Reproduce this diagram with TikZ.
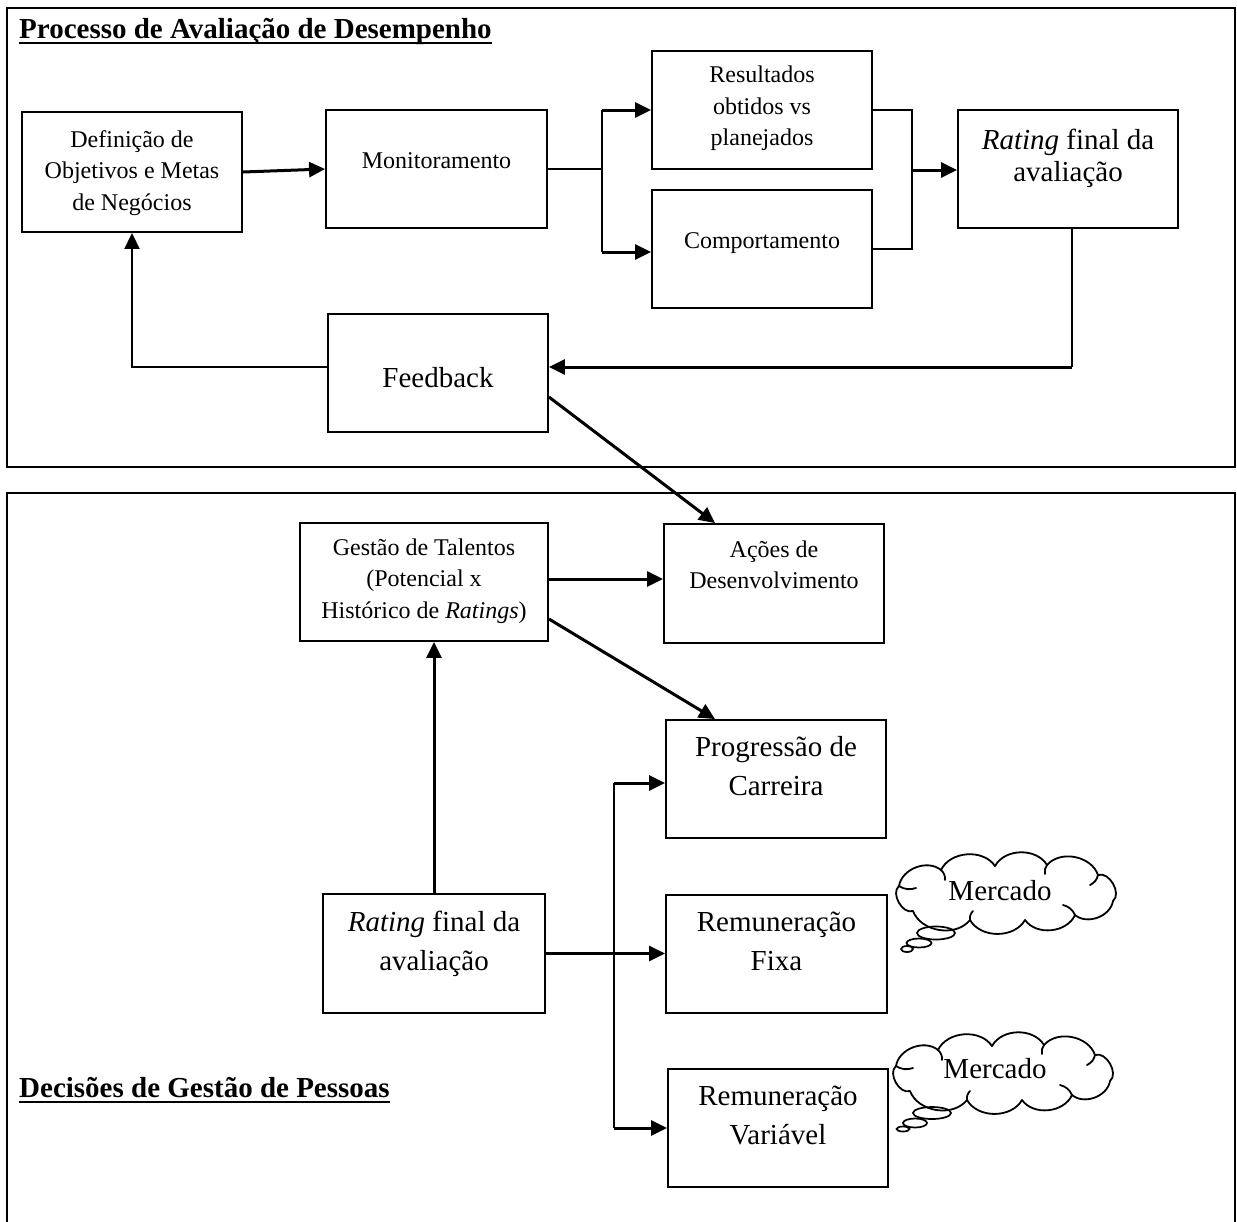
\documentclass[tikz,border=0pt]{standalone}
\usepackage{fontspec}
\setmainfont{Liberation Serif}
\usetikzlibrary{arrows.meta,shapes.geometric}
\newcommand\fsz[2]{\fontsize{#1}{#2}\selectfont}
\newcommand\drawcloud[1]{%
\begin{scope}[shift={#1}]
\draw[cline] (-106,-7) to[bend left=60] (-64,-23) to[bend left=60] (-10,-27)
  to[bend left=60] (42,-28) to[bend left=60] (93,-18) to[bend left=80] (108,8)
  to[bend left=60] (70,22) to[bend left=60] (20,27) to[bend left=60] (-35,27)
  to[bend left=60] (-92,18) to[bend left=80] (-106,-7);
\draw[cline] (-106,-7) to[bend right=25] (-89,-5);
\draw[cline] (-64,-23) to[bend left=25] (-60,-13);
\draw[cline] (42,-28) to[bend right=25] (40,-19);
\draw[cline] (93,-18) to[bend left=25] (85,-8);
\draw[cline] (70,22) to[bend right=25] (58,12);
\draw[cline] (-35,27) to[bend left=25] (-32,18);
\end{scope}}
\begin{document}
\begin{tikzpicture}[x=1pt,y=-1pt,
  frame/.style={line width=1.9pt},
  box/.style={draw, line width=1.9pt, inner sep=0pt},
  txt/.style={align=center, inner sep=0pt},
  sm/.style={font={\fsz{24}{31.5}}},
  lg/.style={font={\fsz{29}{32}}},
  lgb/.style={font={\fsz{29}{39}}},
  ttl/.style={font={\bfseries\fsz{29}{32}}, inner sep=0pt, anchor=base west},
  ln/.style={line width=1.9pt},
  arr/.style={line width=3pt, -{Triangle[length=16pt,width=15pt]}},
  arrt/.style={line width=1.9pt, -{Triangle[length=16pt,width=15pt]}},
  bub/.style={ellipse, draw, line width=1.7pt, inner sep=0pt},
  cline/.style={line width=1.8pt, line join=round, line cap=round}
]
\useasboundingbox (0,0) rectangle (1237,1221);

% frames
\draw[frame] (7,8) rectangle (1235,467);
\draw[frame] (7,1225) -- (7,493) -- (1235,493) -- (1235,1225);

% titles
\node[ttl] (t1) at (19,38) {Processo de Avaliação de Desempenho};
\draw[line width=2.6pt] ([yshift=-5pt]t1.base west) -- ([yshift=-5pt]t1.base east);
\node[ttl] (t2) at (19,1097) {Decisões de Gestão de Pessoas};
\draw[line width=2.6pt] ([yshift=-5pt]t2.base west) -- ([yshift=-5pt]t2.base east);

% top boxes
\node[box, minimum width=220pt, minimum height=120pt] (def) at (132,172) {};
\node[txt, sm] (defT) at (132,172.2) {\strut Definição de\\\strut Objetivos e Metas\\\strut de Negócios};
\node[box, minimum width=221pt, minimum height=118pt] (mon) at (436.5,169) {};
\node[txt, sm] (monT) at (436.5,162.2) {\strut Monitoramento};
\node[box, minimum width=220pt, minimum height=118pt] (res) at (762,110) {};
\node[txt, sm] (resT) at (762,107.7) {\strut Resultados\\\strut obtidos vs\\\strut planejados};
\node[box, minimum width=220pt, minimum height=118pt] (com) at (762,249) {};
\node[txt, sm] (comT) at (762,242.2) {\strut Comportamento};
\node[box, minimum width=220pt, minimum height=118pt] (rat) at (1068,169) {};
\node[txt, lg] (ratT) at (1068,158.6) {\strut\textit{Rating} final da\\\strut avaliação};
\node[box, minimum width=220pt, minimum height=118pt] (fb) at (438,373) {};
\node[txt, lg] (fbT) at (438,380.6) {\strut Feedback};

% bottom boxes
\node[box, minimum width=248pt, minimum height=118pt] (gest) at (424,582) {};
\node[txt, sm] (gestT) at (424,580.2) {\strut Gestão de Talentos\\\strut (Potencial x\\\strut Histórico de \textit{Ratings})};
\node[box, minimum width=220pt, minimum height=119pt] (acoes) at (774,583.5) {};
\node[txt, sm] (acoesT) at (774,566.5) {\strut Ações de\\\strut Desenvolvimento};
\node[box, minimum width=220pt, minimum height=118pt] (prog) at (776,779) {};
\node[txt, lgb] (progT) at (776,767.7) {\strut Progressão de\\\strut Carreira};
\node[box, minimum width=221pt, minimum height=118pt] (fixa) at (776.5,954) {};
\node[txt, lgb] (fixaT) at (776.5,942.7) {\strut Remuneração\\\strut Fixa};
\node[box, minimum width=220pt, minimum height=118pt] (var) at (778,1128) {};
\node[txt, lgb] (varT) at (778,1116.7) {\strut Remuneração\\\strut Variável};
\node[box, minimum width=222pt, minimum height=119pt] (rat2) at (434,953.5) {};
\node[txt, lgb] (rat2T) at (434,942.7) {\strut\textit{Rating} final da\\\strut avaliação};

% clouds
\drawcloud{(1005,893)}
\node[txt, lg] (cl1T) at (1000,893.6) {\strut Mercado};
\node[bub, minimum width=38pt, minimum height=13pt] (b1a) at (936,933) {};
\node[bub, minimum width=25pt, minimum height=9pt] (b1b) at (919,943) {};
\node[bub, minimum width=12pt, minimum height=6pt] (b1c) at (907,949) {};
\drawcloud{(1002,1073)}
\node[txt, lg] (cl2T) at (995,1071.6) {\strut Mercado};
\node[bub, minimum width=38pt, minimum height=12pt] (b2a) at (932,1113) {};
\node[bub, minimum width=24pt, minimum height=9pt] (b2b) at (915,1123) {};
\node[bub, minimum width=13pt, minimum height=5pt] (b2c) at (903,1129) {};

% top connectors
\draw[arr] (def.east) -- (mon.west);
\coordinate (sp) at (602,169);
\draw[ln] (mon.east) -- (sp);
\draw[ln] (sp |- res.west) -- ([yshift=-3pt]com.west -| sp);
\draw[arr] (sp |- res.west) -- (res.west);
\draw[arr] ([yshift=-3pt]com.west -| sp) -- ([yshift=-3pt]com.west);
\coordinate (mg) at (912,170);
\draw[ln] (res.east) -- (res.east -| mg) -- (com.east -| mg) -- (com.east);
\draw[arr] (mg) -- (mg -| rat.west);
\coordinate (rd) at (1072,367);
\draw[ln] (rd |- rat.south) -- (rd);
\draw[arr] (rd) -- (rd -| fb.east);
\coordinate (fl) at (132,367);
\draw[arrt] (fl -| fb.west) -- (fl) -- (def.south);
\draw[arr] ([yshift=-24pt]fb.east) -- ([xshift=-59pt]acoes.north);

% bottom connectors
\draw[arr] ([yshift=3pt]gest.east) -- ([yshift=3pt]gest.east -| acoes.west);
\draw[arr] ([yshift=-37pt]gest.east) -- ([xshift=-61pt]prog.north);
\draw[arr] (rat2.north) -- (rat2.north |- gest.south);
\coordinate (bv) at (614,953.5);
\draw[arr] (rat2.east) -- (rat2.east -| fixa.west);
\draw[line width=2.5pt] ([yshift=-4pt]prog.west -| bv) -- (var.west -| bv);
\draw[arr] ([yshift=-4pt]prog.west -| bv) -- ([yshift=-4pt]prog.west);
\draw[arr] (var.west -| bv) -- (var.west);
\end{tikzpicture}
\end{document}
